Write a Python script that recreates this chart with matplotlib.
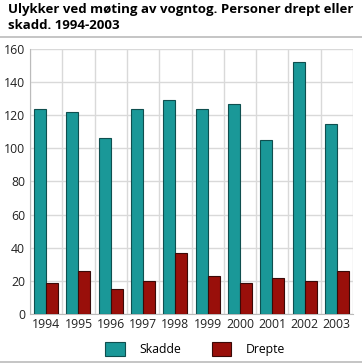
import numpy as np
import matplotlib
matplotlib.use('Agg')
import matplotlib.pyplot as plt
from matplotlib.lines import Line2D

years = ['1994', '1995', '1996', '1997', '1998', '1999', '2000', '2001', '2002', '2003']
skadde = [124, 122, 106, 124, 129, 124, 127, 105, 152, 115]
drepte = [19, 26, 15, 20, 37, 23, 19, 22, 20, 26]

plt.rcParams['font.family'] = ['Open Sans', 'DejaVu Sans']

fig = plt.figure(figsize=(3.62, 3.63), dpi=100)
ax = fig.add_axes([30/362, 1 - 314/363, 323/362, 265/363])

x = np.arange(len(years))
w = 0.37
ax.bar(x - w/2, skadde, w, color='#1a9898', edgecolor='#0f4f4f', linewidth=0.8,
       label='Skadde', zorder=3)
ax.bar(x + w/2, drepte, w, color='#990f0a', edgecolor='#3a0a08', linewidth=0.8,
       label='Drepte', zorder=3)

ax.set_xlim(-0.5, len(years) - 0.5)
ax.set_ylim(0, 160)
ax.set_yticks(range(0, 161, 20))
ax.set_xticks(x)
ax.set_xticklabels(years)
ax.set_xticks(np.arange(-0.5, len(years), 1), minor=True)
ax.grid(axis='y', which='major', color='#d9d9d9', linewidth=1, zorder=0)
ax.grid(axis='x', which='minor', color='#d9d9d9', linewidth=1, zorder=0)
ax.tick_params(axis='both', which='both', length=0, labelsize=8.8, colors='#222222')
ax.tick_params(axis='x', pad=3)
for s in ['top', 'right']:
    ax.spines[s].set_visible(False)
ax.spines['left'].set_color('#bbbbbb')
ax.spines['bottom'].set_color('#bbbbbb')

fig.text(8/362, 1 - 3/363, 'Ulykker ved møting av vogntog. Personer drept eller\nskadd. 1994-2003',
         ha='left', va='top', fontsize=9.5, fontweight='bold', linespacing=1.3)
fig.add_artist(Line2D([0, 1], [1 - 37/363, 1 - 37/363], color='#bbbbbb', linewidth=1.2))
fig.add_artist(Line2D([0, 1], [1 - 361.5/363, 1 - 361.5/363], color='#bbbbbb', linewidth=1.2))

fig.legend(loc='center', bbox_to_anchor=(195/362, 1 - 349/363), ncol=2, frameon=False,
           fontsize=8.8, handlelength=1.6, handleheight=1.4, columnspacing=2.5, handletextpad=1.2)

fig.savefig('out.png', dpi=100)
